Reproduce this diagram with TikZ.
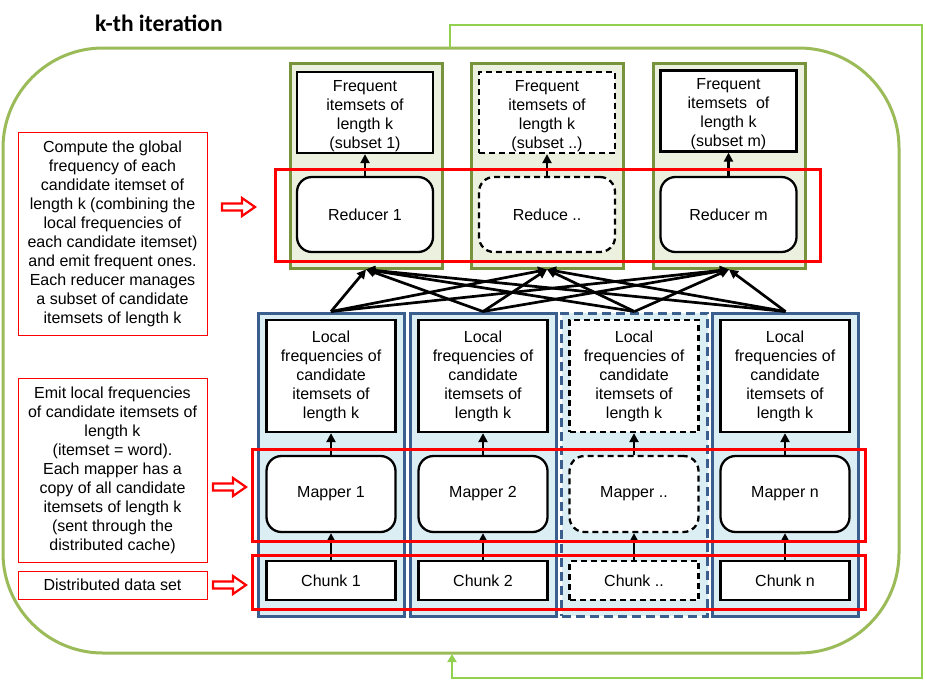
\documentclass[tikz,border=0pt]{standalone}
\usepackage{fontspec}
\setmainfont{Liberation Sans}
\newfontfamily\titlefont{Carlito}
\usetikzlibrary{arrows.meta}
\definecolor{outgreen}{HTML}{9BBB59}
\definecolor{fbgreen}{HTML}{92D050}
\definecolor{redgreen}{HTML}{77933C}
\definecolor{redfill}{HTML}{EBF1DE}
\definecolor{mapblue}{HTML}{3A5F8F}
\definecolor{mapfill}{HTML}{DBEEF4}
\newcommand\hollowarrow[2]{\draw[hollow] (#1,#2) ++(0,-3.5) -- ++(20,0) -- ++(0,-5.5) -- ++(13,9) -- ++(-13,9) -- ++(0,-5.5) -- ++(-20,0) -- cycle;}
\begin{document}
\begin{tikzpicture}[x=1pt,y=-1pt,
  txt/.style={font=\fontsize{16}{19}\selectfont, align=center, inner sep=2pt},
  outerbox/.style={draw=outgreen, line width=3pt, rounded corners=100pt, minimum width=896pt, minimum height=605pt, inner sep=0pt},
  feedback/.style={draw=fbgreen, line width=2.5pt, -{Triangle[length=8pt,width=9pt]}},
  redcol/.style={draw=redgreen, fill=redfill, line width=3pt, minimum width=152pt, minimum height=205pt, inner sep=0pt},
  freqbox/.style={draw=black, fill=white, line width=2.3pt, minimum width=136pt, minimum height=81pt, inner sep=0pt},
  redbox/.style={txt, draw=black, fill=white, line width=2.3pt, rounded corners=15pt, minimum width=136pt, minimum height=75pt},
  mapcol/.style={draw=mapblue, fill=mapfill, line width=3pt, minimum width=146pt, minimum height=303pt, inner sep=0pt},
  localbox/.style={txt, draw=black, fill=white, line width=2.3pt, minimum width=129pt, minimum height=112pt},
  mapbox/.style={txt, draw=black, fill=white, line width=2.3pt, rounded corners=15pt, minimum width=129pt, minimum height=76pt},
  chunkbox/.style={txt, draw=black, fill=white, line width=2.3pt, minimum width=129pt, minimum height=39pt},
  dashin/.style={dash pattern=on 6pt off 4pt},
  dashcol/.style={dash pattern=on 9pt off 5pt},
  hl/.style={draw=red, line width=3pt, inner sep=0pt},
  note/.style={txt, draw=red, line width=0.8pt, minimum width=189pt},
  hollow/.style={draw=red, fill=white, line width=2.2pt, line join=miter},
  flow/.style={line width=2.7pt, -{Triangle[length=9pt,width=9pt]}}
]
\useasboundingbox (0,0) rectangle (925,681);

% outer iteration frame and title
\node[outerbox] (iter) at (451,350.5) {};
\node[font=\titlefont\bfseries\fontsize{23.5}{28}\selectfont, anchor=base west, inner sep=0pt] (title) at (95,31) {k-th iteration};

% feedback loop
\coordinate (fbs) at (450,48);
\coordinate (fbe) at (452,654);
\draw[feedback] (fbs) -- (450,25) -- (922,25) -- (922,678) -- (452,678) -- (fbe);

% reducer columns
\node[redcol] (g1) at (366,165.5) {};
\node[redcol] (g2) at (547,165.5) {};
\node[redcol] (g3) at (729,165.5) {};

\node[freqbox] (f1) at (365,112.5) {};
\node[freqbox, dashin] (f2) at (547,112.5) {};
\node[freqbox] (f3) at (728.5,111) {};
\node[txt] (f1t) at (365,116.5) {Frequent\\itemsets of\\length k\\(subset 1)};
\node[txt] (f2t) at (547,116.5) {Frequent\\itemsets of\\length k\\(subset ..)};
\node[txt] (f3t) at (728.5,114) {Frequent\\itemsets\ \ of\\length k\\(subset m)};

\node[redbox] (r1) at (365,214.5) {Reducer 1};
\node[redbox, dashin] (r2) at (547,214.5) {Reduce ..};
\node[redbox] (r3) at (728.5,214.5) {Reducer m};

\foreach \i in {1,2,3} { \draw[flow] (r\i.north) -- (f\i.south); }

% mapper columns
\node[mapcol] (c1) at (331,464.5) {};
\node[mapcol] (c2) at (483,464.5) {};
\node[mapcol, dashcol] (c3) at (634.5,464.5) {};
\node[mapcol] (c4) at (785.5,464.5) {};

\node[localbox] (l1) at (331,376) {Local\\frequencies of\\candidate\\itemsets of\\length k};
\node[localbox] (l2) at (483,376) {Local\\frequencies of\\candidate\\itemsets of\\length k};
\node[localbox, dashin] (l3) at (634,376) {Local\\frequencies of\\candidate\\itemsets of\\length k};
\node[localbox] (l4) at (785,376) {Local\\frequencies of\\candidate\\itemsets of\\length k};

\node[mapbox] (m1) at (331,494) {Mapper 1};
\node[mapbox] (m2) at (483,494) {Mapper 2};
\node[mapbox, dashin] (m3) at (634,494) {Mapper ..};
\node[mapbox] (m4) at (785,494) {Mapper n};

\node[chunkbox] (k1) at (331,580.5) {Chunk 1};
\node[chunkbox] (k2) at (483,580.5) {Chunk 2};
\node[chunkbox, dashin] (k3) at (634,580.5) {Chunk ..};
\node[chunkbox] (k4) at (785,580.5) {Chunk n};

\foreach \i in {1,2,3,4} {
  \draw[flow] (k\i.north) -- (m\i.south);
  \draw[flow] (m\i.north) -- (l\i.south);
}

% highlight rectangles
\node[hl, minimum width=545pt, minimum height=92pt] (hlr) at (547.5,215) {};
\node[hl, minimum width=613pt, minimum height=92pt] (hlm) at (558.5,495) {};
\node[hl, minimum width=613pt, minimum height=54pt] (hlc) at (558.5,582) {};

% cross connections mappers -> reducers
\foreach \i in {1,2,3,4} {
  \foreach \j in {1,2,3} {
    \draw[flow] (c\i.north) -- (g\j.south);
  }
}

% explanation notes
\node[note, minimum height=203pt] (n1) at (112.5,233.5) {Compute the global\\frequency of each\\candidate itemset of\\length k (combining the\\local frequencies of\\each candidate itemset)\\and emit frequent ones.\\Each reducer manages\\a subset of candidate\\itemsets of length k};
\node[note, minimum height=184pt] (n2) at (112.5,470) {Emit local frequencies\\of candidate itemsets of\\length k\\(itemset = word).\\Each mapper has a\\copy of all candidate\\itemsets of length k\\(sent through the\\distributed cache)};
\node[note, minimum height=28pt] (n3) at (112.5,585) {Distributed data set};

\hollowarrow{222}{207}
\hollowarrow{213}{487}
\hollowarrow{213}{585}
\end{tikzpicture}
\end{document}
